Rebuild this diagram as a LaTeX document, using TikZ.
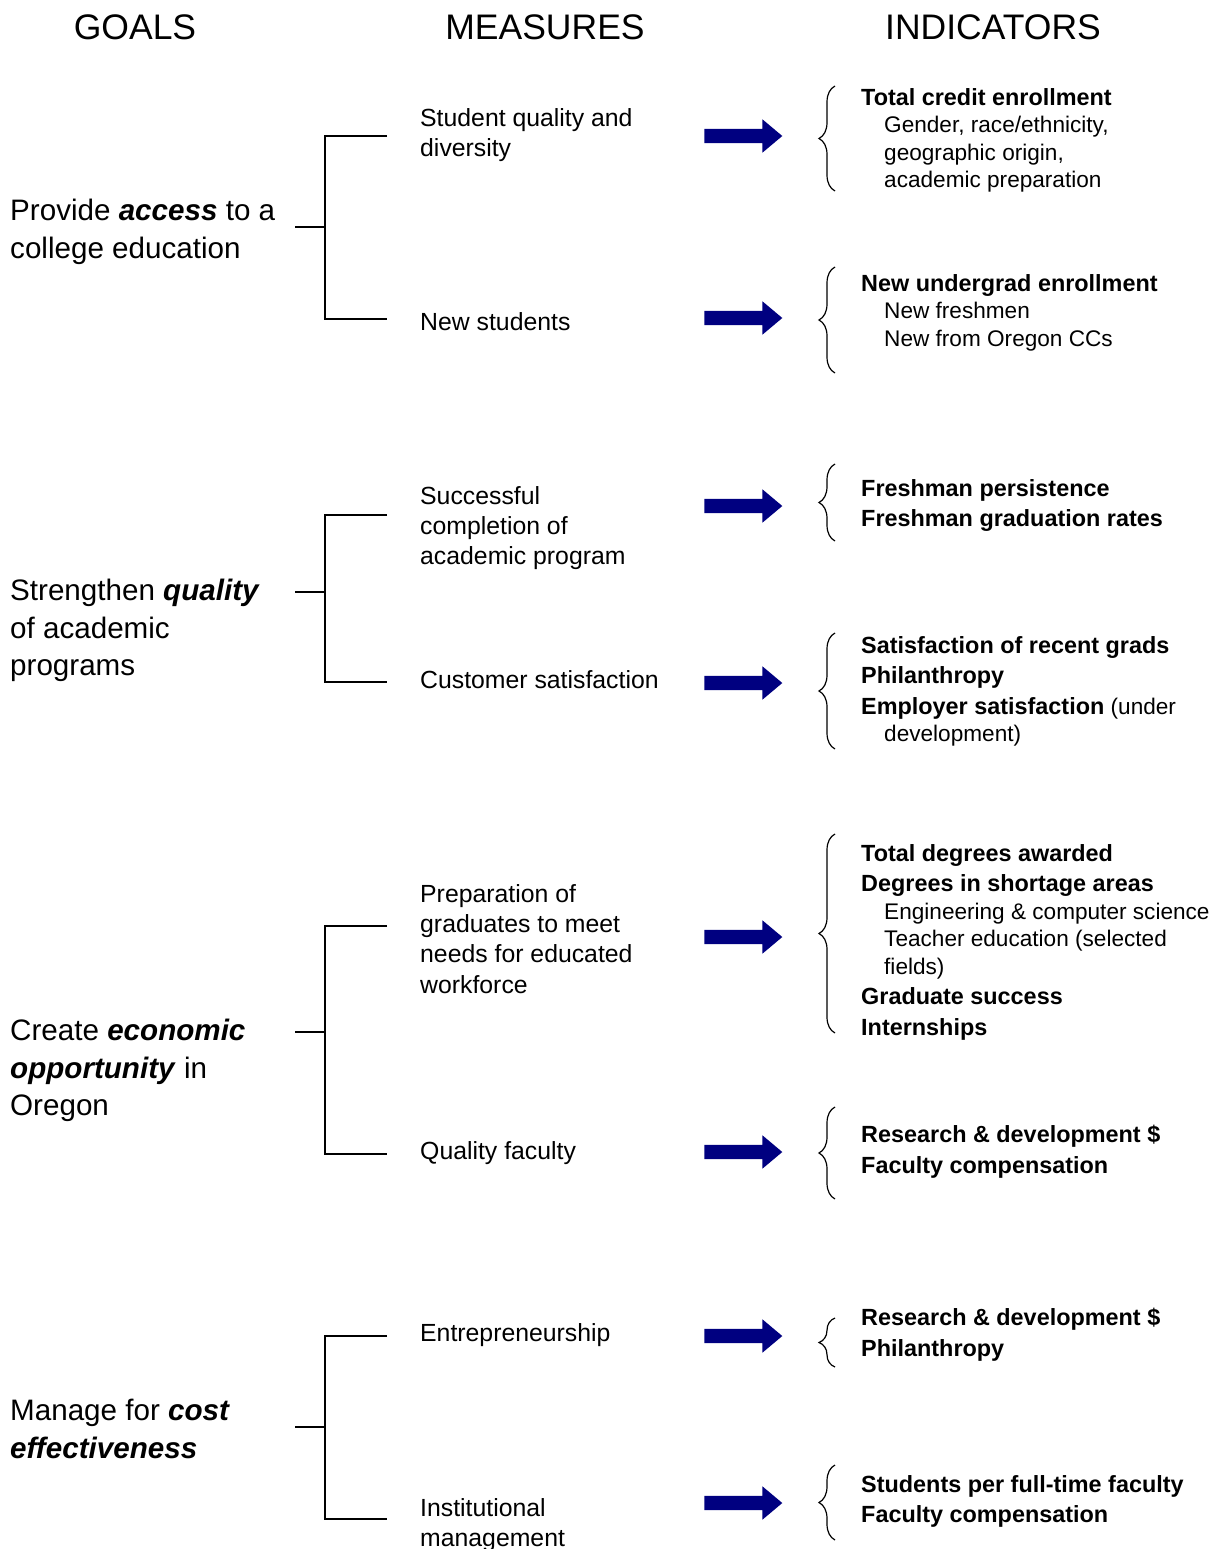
\documentclass[tikz,border=0pt]{standalone}
\usepackage{fontspec}
\setmainfont{Liberation Sans}
\usepackage{tikz}
\usetikzlibrary{shapes.arrows,decorations.pathreplacing}

\definecolor{arrowblue}{RGB}{0,0,128}
\newcommand{\bi}[1]{\textbf{\textit{#1}}}
\newcommand{\hd}[1]{{\fontsize{23.4}{27.5}\selectfont\bfseries #1}}
\newcommand{\subline}{\hspace*{23pt}}

\begin{document}
\begin{tikzpicture}[x=1pt, y=-1pt,
	title/.style={inner sep=0pt, font=\fontsize{35.5}{40}\selectfont},
	goal/.style={anchor=north west, inner sep=0pt, align=left, font=\fontsize{29.6}{37.5}\selectfont},
	measure/.style={anchor=north west, inner sep=0pt, align=left, font=\fontsize{24.8}{30.3}\selectfont},
	indicator/.style={anchor=north west, inner sep=0pt, align=left, font=\fontsize{22.6}{27.5}\selectfont},
	bigarrow/.style={single arrow, fill=arrowblue, draw=none, inner sep=0pt, inner ysep=7pt,
		minimum height=78pt, single arrow head extend=9.5pt, single arrow tip angle=80},
	link/.style={line width=1.8pt},
	curly/.style={decorate, decoration={brace, amplitude=16pt}, line width=1.2pt}]
	
	\useasboundingbox (0,0) rectangle (1223,1549);
	
	% column titles
	\node [title] (goals-title) at (135,27) {GOALS};
	\node [title] (measures-title) at (545,27) {MEASURES};
	\node [title] (indicators-title) at (993,27) {INDICATORS};
	
	% goals
	\node [goal] (goal-1) at (10,199) {Provide \bi{access} to a\\college education};
	\node [goal] (goal-2) at (10,579) {Strengthen \bi{quality}\\of academic\\programs};
	\node [goal] (goal-3) at (10,1019) {Create \bi{economic}\\\bi{opportunity} in\\Oregon};
	\node [goal] (goal-4) at (10,1399) {Manage for \bi{cost}\\\bi{effectiveness}};
	
	% measures
	\node [measure] (measure-1) at (420,108) {Student quality and\\diversity};
	\node [measure] (measure-2) at (420,312) {New students};
	\node [measure] (measure-3) at (420,486) {Successful\\completion of\\academic program};
	\node [measure] (measure-4) at (420,670) {Customer satisfaction};
	\node [measure] (measure-5) at (420,884) {Preparation of\\graduates to meet\\needs for educated\\workforce};
	\node [measure] (measure-6) at (420,1141) {Quality faculty};
	\node [measure] (measure-7) at (420,1323) {Entrepreneurship};
	\node [measure] (measure-8) at (420,1498) {Institutional\\management};
	
	% indicators
	\node [indicator] (indicator-1) at (861,88) {\hd{Total credit enrollment}\\
		\subline Gender, race/ethnicity,\\ \subline geographic origin,\\ \subline academic preparation};
	\node [indicator] (indicator-2) at (861,274) {\hd{New undergrad enrollment}\\
		\subline New freshmen\\ \subline New from Oregon CCs};
	\node [indicator] (indicator-3) at (861,479) {\hd{Freshman persistence}\\[3pt]\hd{Freshman graduation rates}};
	\node [indicator] (indicator-4) at (861,636) {\hd{Satisfaction of recent grads}\\[3pt]\hd{Philanthropy}\\[3pt]
		\hd{Employer satisfaction} (under\\ \subline development)};
	\node [indicator] (indicator-5) at (861,844) {\hd{Total degrees awarded}\\[3pt]\hd{Degrees in shortage areas}\\
		\subline Engineering \& computer science\\ \subline Teacher education (selected\\ \subline fields)\\[3pt]
		\hd{Graduate success}\\[3pt]\hd{Internships}};
	\node [indicator] (indicator-6) at (861,1125) {\hd{Research \& development \$}\\[3pt]\hd{Faculty compensation}};
	\node [indicator] (indicator-7) at (861,1308) {\hd{Research \& development \$}\\[3pt]\hd{Philanthropy}};
	\node [indicator] (indicator-8) at (861,1475) {\hd{Students per full-time faculty}\\[3pt]\hd{Faculty compensation}};
	
	% brackets from goals to measures
	\foreach \s/\t/\b [count=\g] in {227/136/319, 592/515/682, 1032/926/1154, 1427/1336/1519} {
		\coordinate (stub-\g) at (295,\s);
		\coordinate (junction-\g) at (325,\s);
		\coordinate (upper-\g) at (387,\t);
		\coordinate (lower-\g) at (387,\b);
		\draw [link] (stub-\g) -- (junction-\g);
		\draw [link] (upper-\g) -| (junction-\g) |- (lower-\g);
	}
	
	% arrows
	\foreach \y [count=\r] in {136,318,506,683,937,1152,1336,1503}
	\node [bigarrow] (arrow-\r) at (739,\y) {};
	
	% braces
	\foreach \t/\b [count=\r] in {86/191, 267/373, 464/541, 633/749, 834/1033, 1107/1199, 1318/1367, 1465/1540} {
		\coordinate (brace-\r-top) at (835,\t);
		\coordinate (brace-\r-bot) at (835,\b);
		\draw [curly] (brace-\r-bot) -- (brace-\r-top);
	}
	
\end{tikzpicture}
\end{document}
